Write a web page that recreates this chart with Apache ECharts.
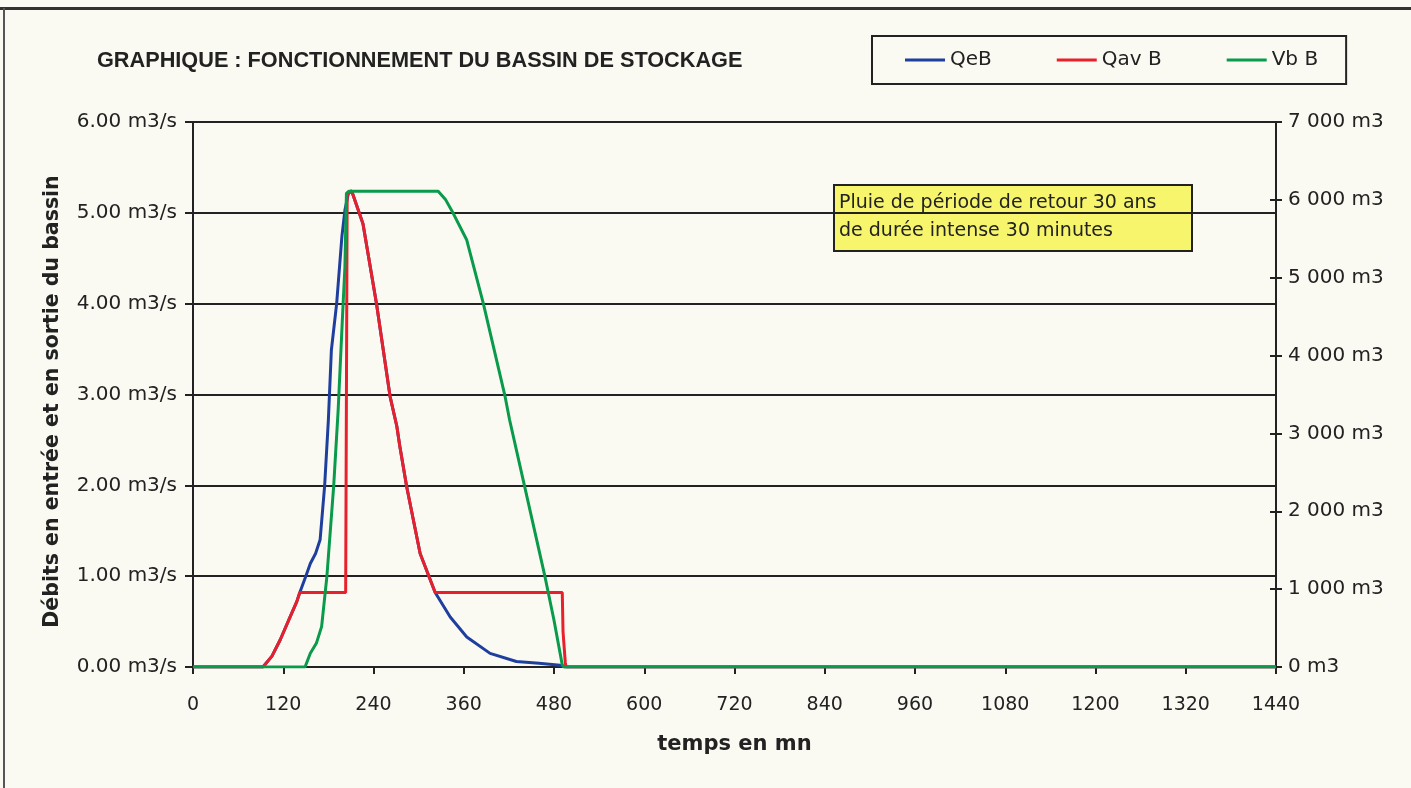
<!DOCTYPE html>
<html>
<head>
<meta charset="utf-8">
<script src="https://cdn.jsdelivr.net/npm/echarts@6/dist/echarts.min.js"></script>
<style>
  html, body { margin: 0; padding: 0; background: #fbfaf2; }
  #main { width: 1411px; height: 788px; }
</style>
</head>
<body>
<div id="main"></div>
<script>
// temps en mn / debits en m3/s / volume en m3
var qebT = [0, 93, 105, 116, 129, 138, 142, 150, 156, 163, 169, 175, 180, 184, 191, 198, 202, 207, 211, 226, 244, 262, 271, 275, 284, 302, 322, 342, 364, 395, 430, 460, 488, 495, 1440];
var qebV = [0, 0, 0.12, 0.30, 0.55, 0.72, 0.82, 1.00, 1.14, 1.25, 1.40, 1.99, 2.72, 3.49, 4.00, 4.74, 5.03, 5.23, 5.24, 4.88, 4.00, 2.98, 2.65, 2.43, 1.99, 1.25, 0.82, 0.55, 0.33, 0.15, 0.06, 0.04, 0.02, 0, 0];

var qavT = [0, 93, 105, 116, 129, 138, 142, 203, 205, 211, 226, 244, 262, 271, 275, 284, 302, 322, 491, 492, 495, 496, 1440];
var qavV = [0, 0, 0.12, 0.30, 0.55, 0.72, 0.82, 0.82, 5.20, 5.24, 4.88, 4.00, 2.98, 2.65, 2.43, 1.99, 1.25, 0.82, 0.82, 0.39, 0.05, 0, 0];

var vbT = [0, 149, 156, 164, 171, 178, 187, 193, 199, 202, 204, 207, 326, 336, 346, 364, 386, 415, 421, 441, 468, 480, 491, 493, 1440];
var vbV = [0, 0, 176, 304, 518, 1160, 2316, 3300, 4543, 5141, 6084, 6110, 6110, 6000, 5827, 5484, 4671, 3472, 3172, 2316, 1160, 600, 26, 0, 0];

var seriesNames = ['QeB', 'Qav B', 'Vb B'];
var seriesColors = ['#1f3f9f', '#e8202c', '#0a9a4c'];

function pairs(t, v) {
    var out = [];
    for (var i = 0; i < t.length; i++) out.push([t[i], v[i]]);
    return out;
}

var txt = '#222';
var lblFont = 'DejaVu Sans';
var chart = echarts.init(document.getElementById('main'));

var option = {
    backgroundColor: '#fbfaf2',
    animation: false,
    title: {
        text: 'GRAPHIQUE : FONCTIONNEMENT DU BASSIN DE STOCKAGE',
        left: 92, top: 45,
        textStyle: { fontFamily: 'Liberation Sans', fontWeight: 'bold', fontSize: 21.7, color: txt }
    },
    legend: {
        left: 872, top: 36,
        data: seriesNames,
        icon: 'rect',
        itemWidth: 40, itemHeight: 3,
        itemGap: 65,
        padding: [14, 28, 14, 33],
        borderColor: '#222', borderWidth: 2,
        textStyle: { fontFamily: lblFont, fontSize: 20, color: txt }
    },
    grid: { left: 193, right: 135, top: 122, bottom: 121 },
    xAxis: {
        type: 'value', min: 0, max: 1440, interval: 120,
        name: 'temps en mn', nameLocation: 'middle', nameGap: 67,
        nameTextStyle: { fontFamily: 'DejaVu Sans', fontWeight: 'bold', fontSize: 21, color: txt },
        axisLine: { lineStyle: { color: '#222', width: 2 } },
        axisTick: { show: true, length: 7, lineStyle: { color: '#222', width: 2 } },
        axisLabel: { fontFamily: lblFont, fontSize: 19, color: txt, margin: 29,
            formatter: function (v) { return String(v); } },
        splitLine: { show: false }
    },
    yAxis: [{
        type: 'value', min: 0, max: 6, interval: 1, position: 'left',
        name: 'Débits en entrée et en sortie du bassin', nameLocation: 'middle', nameGap: 130,
        nameTextStyle: { fontFamily: 'DejaVu Sans', fontWeight: 'bold', fontSize: 20.5, color: txt,
            padding: [0, 14, 0, 0] },
        axisLine: { show: true, lineStyle: { color: '#222', width: 2 } },
        axisTick: { show: true, length: 8, lineStyle: { color: '#222', width: 2 } },
        axisLabel: { fontFamily: lblFont, fontSize: 20, color: txt, margin: 16,
            formatter: function (v) { return v.toFixed(2) + ' m3/s'; } },
        splitLine: { show: true, lineStyle: { color: '#222', width: 2 } }
    }, {
        type: 'value', min: 0, max: 7000, interval: 1000, position: 'right',
        axisLine: { show: true, lineStyle: { color: '#222', width: 2 } },
        axisTick: { show: true, length: 6, lineStyle: { color: '#222', width: 2 } },
        axisLabel: { fontFamily: lblFont, fontSize: 20, color: txt, margin: 12,
            formatter: function (v) { return String(v).replace(/\B(?=(\d{3})+(?!\d))/g, ' ') + ' m3'; } },
        splitLine: { show: false }
    }, {
        // inner half of the crossing ticks on the right axis
        type: 'value', min: 0, max: 7000, interval: 1000, position: 'right',
        axisLine: { show: false },
        axisTick: { show: true, inside: true, length: 6, lineStyle: { color: '#222', width: 2 } },
        axisLabel: { show: false },
        splitLine: { show: false }
    }],
    series: [{
        name: seriesNames[0], type: 'line', yAxisIndex: 0,
        data: pairs(qebT, qebV), showSymbol: false,
        lineStyle: { color: seriesColors[0], width: 3 }, itemStyle: { color: seriesColors[0] }, z: 2
    }, {
        name: seriesNames[1], type: 'line', yAxisIndex: 0,
        data: pairs(qavT, qavV), showSymbol: false,
        lineStyle: { color: seriesColors[1], width: 3 }, itemStyle: { color: seriesColors[1] }, z: 3
    }, {
        name: seriesNames[2], type: 'line', yAxisIndex: 1,
        data: pairs(vbT, vbV), showSymbol: false,
        lineStyle: { color: seriesColors[2], width: 3 }, itemStyle: { color: seriesColors[2] }, z: 4
    }],
    graphic: [
        { type: 'rect', shape: { x: 0, y: 7, width: 1411, height: 3 }, style: { fill: '#333' } },
        { type: 'rect', shape: { x: 3, y: 8, width: 2, height: 780 }, style: { fill: '#555' } },
        {
            type: 'group', left: 833, top: 184,
            children: [
                { type: 'rect', shape: { x: 0, y: 0, width: 358, height: 66 },
                  style: { fill: '#f6f56c', stroke: '#222', lineWidth: 2 } },
                { type: 'text', left: 5, top: 4,
                  style: { text: 'Pluie de période de retour 30 ans\nde durée intense 30 minutes',
                           font: '19px DejaVu Sans', fill: '#222', lineHeight: 28 } }
            ]
        }
    ]
};
chart.setOption(option);
</script>
</body>
</html>
